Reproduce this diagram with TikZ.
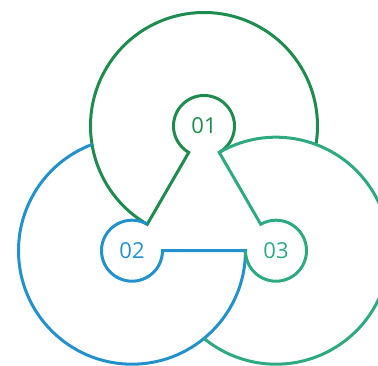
\documentclass[tikz,border=0pt]{standalone}
\usepackage{fontspec}
\setmainfont{Open Sans}
\definecolor{cgreen}{RGB}{30,140,78}
\definecolor{cblue}{RGB}{35,145,205}
\definecolor{cteal}{RGB}{45,170,130}
\begin{document}
\begin{tikzpicture}[x=1pt,y=1pt,
  ringline/.style={line width=3pt},
  lbl/.style={font=\fontsize{22}{22}\selectfont, inner sep=0pt}]
\useasboundingbox (0,0) rectangle (378,365);
\coordinate (c1) at (204,239);
\coordinate (c2) at (132,114.3);
\coordinate (c3) at (276,114.3);
\coordinate (j1) at (219.25,212.59);
\coordinate (j2) at (147.25,140.71);
\coordinate (j3) at (245.5,114.3);
% green: circle 01, connector 01-02, outer arc
\draw[ringline,cgreen] (j1) arc[start angle=300, delta angle=300, radius=30.5pt]
  -- (j2) arc[start angle=240, delta angle=-249.4, radius=113.5pt];
% blue: circle 02, connector 02-03, outer arc
\draw[ringline,cblue] (j2) arc[start angle=60, delta angle=300, radius=30.5pt]
  -- (j3) arc[start angle=0, delta angle=-249.4, radius=113.5pt];
% teal: circle 03, connector 03-01, outer arc
\draw[ringline,cteal] (j3) arc[start angle=180, delta angle=300, radius=30.5pt]
  -- (j1) arc[start angle=120, delta angle=-249.4, radius=113.5pt];
\node[lbl,text=cgreen] (n1) at (c1) {01};
\node[lbl,text=cblue] (n2) at (c2) {02};
\node[lbl,text=cteal] (n3) at (c3) {03};
\end{tikzpicture}
\end{document}
